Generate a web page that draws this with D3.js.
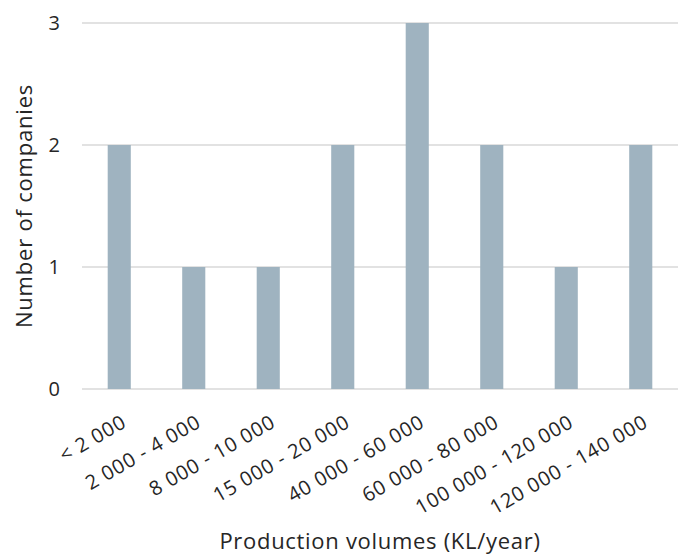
<!DOCTYPE html>
<html>
<head>
<meta charset="utf-8">
<script src="https://cdn.jsdelivr.net/npm/d3@7"></script>
<style>
  html, body { margin: 0; padding: 0; background: #fff; }
  svg text { font-family: "Open Sans", sans-serif; fill: #262626; }
</style>
</head>
<body>
<svg id="chart" width="684" height="555"></svg>
<script>
// Number of companies per production-volume band
const categories = ["< 2 000", "2 000 - 4 000", "8 000 - 10 000", "15 000 - 20 000",
                    "40 000 - 60 000", "60 000 - 80 000", "100 000 - 120 000", "120 000 - 140 000"];
const companies = [2, 1, 1, 2, 3, 2, 1, 2];
const yTicks = [0, 1, 2, 3];
const xTitle = "Production volumes (KL/year)";
const yTitle = "Number of companies";

const W = 684, H = 555;
const margin = { left: 82, right: 6, top: 23, bottom: 166 };
const FONT = "'Open Sans', sans-serif";
const INK = "#262626";

const svg = d3.select("#chart");

const x = d3.scaleBand()
  .domain(categories)
  .range([margin.left, W - margin.right])
  .paddingInner(0.69)
  .paddingOuter(0.345);

const y = d3.scaleLinear()
  .domain([0, 3])
  .range([H - margin.bottom, margin.top]);

// horizontal gridlines
svg.append("g")
  .selectAll("line")
  .data(yTicks)
  .join("line")
  .attr("x1", margin.left)
  .attr("x2", W - margin.right)
  .attr("y1", d => y(d))
  .attr("y2", d => y(d))
  .attr("stroke", "#d9d9d9")
  .attr("stroke-width", 1.5);

// bars
svg.append("g")
  .selectAll("rect")
  .data(categories)
  .join("rect")
  .attr("x", d => x(d))
  .attr("width", x.bandwidth())
  .attr("y", (d, i) => y(companies[i]))
  .attr("height", (d, i) => y(0) - y(companies[i]))
  .attr("fill", "#9fb3c0");

// y axis tick labels
const yAxis = d3.axisLeft(y).tickValues(yTicks).tickSize(0).tickPadding(0).tickFormat(d3.format("d"));
const yg = svg.append("g")
  .attr("transform", `translate(${margin.left - 22},0)`)
  .call(yAxis);
yg.select(".domain").remove();
yg.selectAll("text")
  .attr("font-size", 20)
  .attr("font-family", FONT)
  .attr("fill", INK);

// x axis category labels, rotated
const xAxis = d3.axisBottom(x).tickSize(0).tickPadding(0);
const xg = svg.append("g")
  .attr("transform", `translate(0,${y(0)})`)
  .call(xAxis);
xg.select(".domain").remove();
xg.selectAll(".tick text")
  .attr("font-size", 20)
  .attr("letter-spacing", 0.8)
  .attr("font-family", FONT)
  .attr("fill", INK)
  .attr("text-anchor", "end")
  .attr("x", 0)
  .attr("y", 0)
  .attr("dy", "0.35em")
  .attr("transform", "translate(5,31) rotate(-30)");

// axis titles
svg.append("text")
  .attr("x", (margin.left + W - margin.right) / 2)
  .attr("y", 549)
  .attr("text-anchor", "middle")
  .attr("font-size", 22)
  .attr("letter-spacing", 0.7)
  .text(xTitle);

svg.append("text")
  .attr("transform", `translate(24,${(y(0) + y(3)) / 2}) rotate(-90)`)
  .attr("text-anchor", "middle")
  .attr("dy", "0.35em")
  .attr("font-size", 22)
  .attr("letter-spacing", 0.8)
  .text(yTitle);
</script>
</body>
</html>
